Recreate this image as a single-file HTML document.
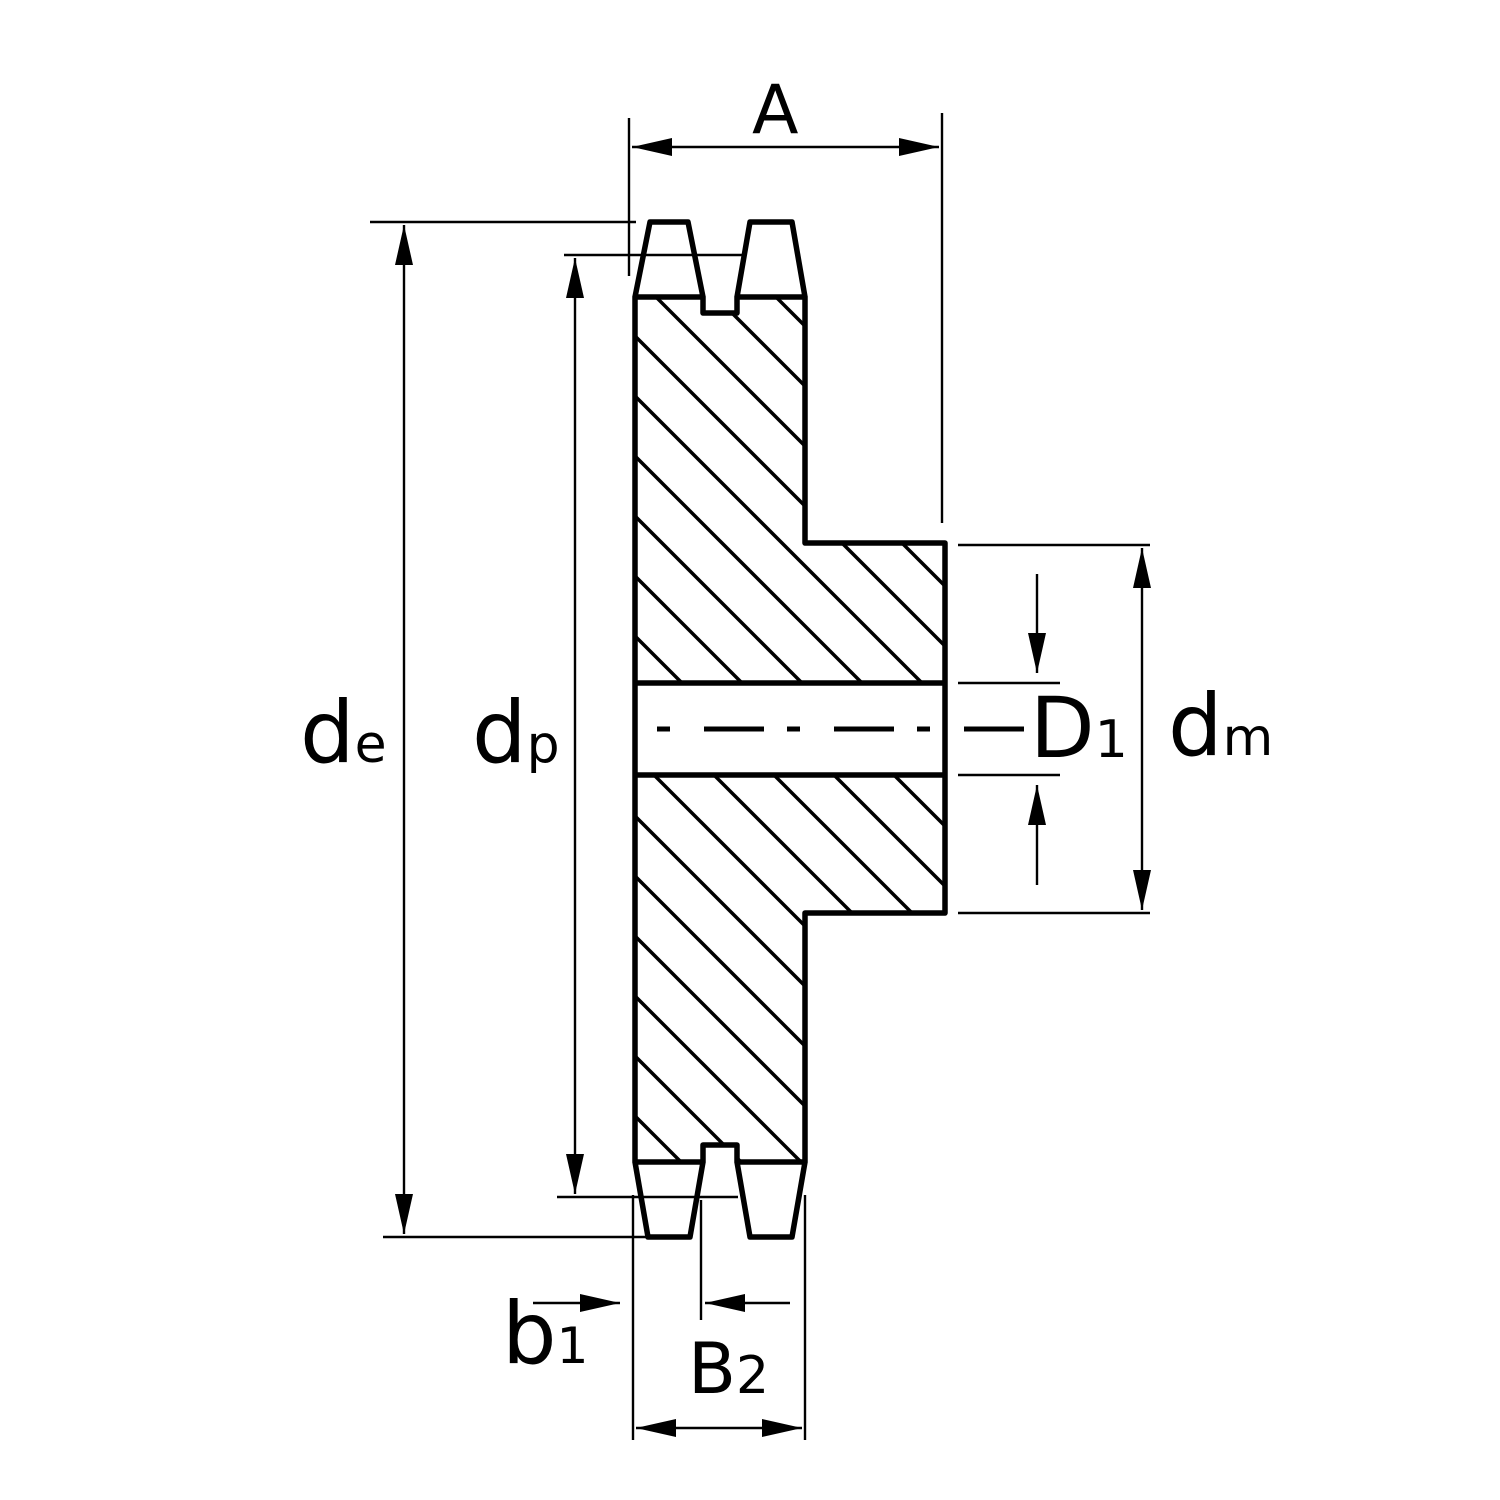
<!DOCTYPE html>
<html><head><style>html,body{margin:0;padding:0;background:#fff}svg{display:block}</style></head>
<body>
<svg width="1500" height="1500" viewBox="0 0 1500 1500" xmlns="http://www.w3.org/2000/svg" font-family="'DejaVu Sans','Liberation Sans',sans-serif">
<defs>
<marker id="ar" viewBox="0 0 10 10" refX="10" refY="5" markerWidth="40" markerHeight="18" markerUnits="userSpaceOnUse" orient="auto-start-reverse" preserveAspectRatio="none"><path d="M0,0 L10,5 L0,10 z" fill="#000"/></marker>
<clipPath id="hc">
<path d="M635,297 L703,297 L703,313 L737,313 L737,297 L805,297 L805,543 L945,543 L945,683 L635,683 Z M635,775 L945,775 L945,913 L805,913 L805,1162 L737,1162 L737,1145 L703,1145 L703,1162 L635,1162 Z"/>
</clipPath>
</defs>
<g clip-path="url(#hc)" stroke="#000" stroke-width="3.5">
<line x1="-361" y1="0" x2="1139" y2="1500"/><line x1="-301" y1="0" x2="1199" y2="1500"/><line x1="-241" y1="0" x2="1259" y2="1500"/><line x1="-181" y1="0" x2="1319" y2="1500"/><line x1="-121" y1="0" x2="1379" y2="1500"/><line x1="-61" y1="0" x2="1439" y2="1500"/><line x1="-1" y1="0" x2="1499" y2="1500"/><line x1="59" y1="0" x2="1559" y2="1500"/><line x1="119" y1="0" x2="1619" y2="1500"/><line x1="179" y1="0" x2="1679" y2="1500"/><line x1="239" y1="0" x2="1739" y2="1500"/><line x1="299" y1="0" x2="1799" y2="1500"/><line x1="359" y1="0" x2="1859" y2="1500"/><line x1="419" y1="0" x2="1919" y2="1500"/><line x1="479" y1="0" x2="1979" y2="1500"/><line x1="539" y1="0" x2="2039" y2="1500"/><line x1="599" y1="0" x2="2099" y2="1500"/><line x1="659" y1="0" x2="2159" y2="1500"/><line x1="719" y1="0" x2="2219" y2="1500"/><line x1="779" y1="0" x2="2279" y2="1500"/><line x1="839" y1="0" x2="2339" y2="1500"/><line x1="899" y1="0" x2="2399" y2="1500"/>
<line x1="-421" y1="0" x2="1079" y2="1500"/><line x1="-481" y1="0" x2="1019" y2="1500"/><line x1="-541" y1="0" x2="959" y2="1500"/><line x1="-601" y1="0" x2="899" y2="1500"/><line x1="-661" y1="0" x2="839" y2="1500"/><line x1="-721" y1="0" x2="779" y2="1500"/><line x1="-781" y1="0" x2="719" y2="1500"/><line x1="-841" y1="0" x2="659" y2="1500"/>
</g>
<g fill="none" stroke="#000" stroke-width="5.5" stroke-linejoin="round">
<path d="M635,297 L635,1162 L703,1162 L703,1145 L737,1145 L737,1162 L805,1162 L805,913 L945,913 L945,543 L805,543 L805,297 L737,297 L737,313 L703,313 L703,297 Z"/>
<line x1="635" y1="683" x2="945" y2="683"/>
<line x1="635" y1="775" x2="945" y2="775"/>
<path d="M635,297 L650,222 L688,222 L703,297"/>
<path d="M737,297 L750,222 L792,222 L805,297"/>
<path d="M635,1162 L648,1237 L690,1237 L703,1162"/>
<path d="M737,1162 L750,1237 L792,1237 L805,1162"/>
</g>
<line x1="657" y1="729" x2="1030" y2="729" stroke="#000" stroke-width="5" stroke-dasharray="13,34,60,23"/>
<g stroke="#000" stroke-width="2.4" fill="none">
<line x1="629" y1="118" x2="629" y2="276"/>
<line x1="942" y1="113" x2="942" y2="523"/>
<line x1="632" y1="147" x2="939" y2="147" marker-start="url(#ar)" marker-end="url(#ar)"/>
<line x1="370" y1="222" x2="636" y2="222"/>
<line x1="383" y1="1237" x2="650" y2="1237"/>
<line x1="404" y1="225" x2="404" y2="1234" marker-start="url(#ar)" marker-end="url(#ar)"/>
<line x1="564" y1="255" x2="742" y2="255"/>
<line x1="557" y1="1197" x2="738" y2="1197"/>
<line x1="575" y1="258" x2="575" y2="1194" marker-start="url(#ar)" marker-end="url(#ar)"/>
<line x1="958" y1="545" x2="1150" y2="545"/>
<line x1="958" y1="913" x2="1150" y2="913"/>
<line x1="1142" y1="548" x2="1142" y2="910" marker-start="url(#ar)" marker-end="url(#ar)"/>
<line x1="958" y1="683" x2="1060" y2="683"/>
<line x1="958" y1="775" x2="1060" y2="775"/>
<line x1="1037" y1="574" x2="1037" y2="673" marker-end="url(#ar)"/>
<line x1="1037" y1="885" x2="1037" y2="785" marker-end="url(#ar)"/>
<line x1="633" y1="1195" x2="633" y2="1440"/>
<line x1="701" y1="1200" x2="701" y2="1320"/>
<line x1="805" y1="1195" x2="805" y2="1440"/>
<line x1="533" y1="1303" x2="620" y2="1303" marker-end="url(#ar)"/>
<line x1="790" y1="1303" x2="705" y2="1303" marker-end="url(#ar)"/>
<line x1="636" y1="1428" x2="802" y2="1428" marker-start="url(#ar)" marker-end="url(#ar)"/>
</g>
<g fill="#000">
<text x="752" y="133" font-size="68">A</text>
<text x="300" y="762" font-size="86">d<tspan font-size="52">e</tspan></text>
<text x="472" y="762" font-size="86">d<tspan font-size="52">p</tspan></text>
<text x="1030" y="757" font-size="84">D<tspan font-size="52">1</tspan></text>
<text x="1168" y="755" font-size="86">d<tspan font-size="52">m</tspan></text>
<text x="502" y="1363" font-size="86">b<tspan font-size="50">1</tspan></text>
<text x="688" y="1393" font-size="70">B<tspan font-size="52">2</tspan></text>
</g>
</svg>
</body></html>
